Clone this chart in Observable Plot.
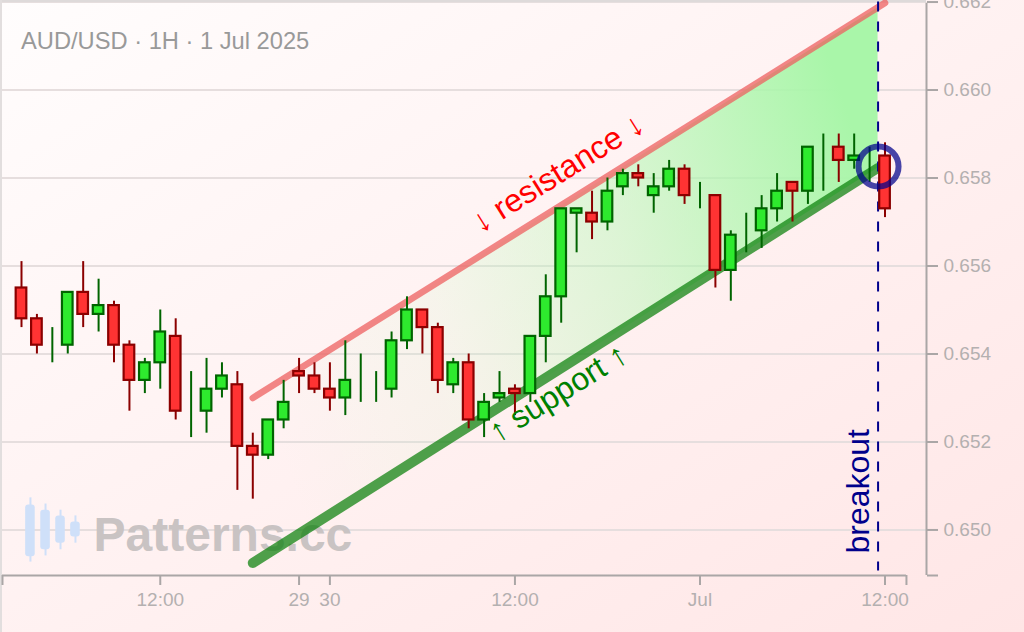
<!DOCTYPE html>
<html>
<head>
<meta charset="utf-8">
<script src="https://cdn.jsdelivr.net/npm/d3@7"></script>
<script src="https://cdn.jsdelivr.net/npm/@observablehq/plot@0.6"></script>
<style>
html,body{margin:0;padding:0;width:1024px;height:632px;overflow:hidden}
body{background:linear-gradient(to bottom right,#fffdfd,#ffe6e6);box-shadow:inset 2px 0 #e2dede}
svg{display:block;background:transparent!important}
</style>
</head>
<body>
<script>
const opens=[.6555,.6548,null,.6542,.6554,.6549,.6551,.6542,.6534,.6538,.6544,null,.6527,.6532,.6533,.6519,.6517,.6525,.6536,.6535,.6532,.6530,null,null,.6532,.6543,.6550,.6546,.6533,.6538,.6525,.6530,.6532,.6531,.6544,.6553,.6572,.6572,.6570,.6578,.6581,.6576,.6578,.6582,null,.6576,.6559,null,.6568,.6573,.6579,.6577,null,.6587,.6584,null,.6585];
const closes=[.6548,.6542,null,.6554,.6549,.6551,.6542,.6534,.6538,.6545,.6527,null,.6532,.6535,.6519,.6517,.6525,.6529,.6535,.6532,.6530,.6534,null,null,.6543,.6550,.6546,.6534,.6538,.6525,.6529,.6531,.6531,.6544,.6553,.6573,.6573,.6570,.6577,.6581,.6580,.6578,.6582,.6576,null,.6559,.6567,null,.6573,.6577,.6577,.6587,null,.6584,.6585,null,.6573];
const highs=[.6561,.6549,.6546,.6554,.6561,.6557,.6552,.6543,.6539,.6550,.6548,.6536,.6539,.6538,.6536,.6522,.6525,.6534,.6539,.6538,.6538,.6543,.6540,.6536,.6545,.6553,.6550,.6547,.6539,.6540,.6531,.6536,.6533,.6544,.6558,.6573,.6573,.6577,.6580,.6582,.6583,.6581,.6584,.6583,.6579,.6576,.6568,.6572,.6576,.6581,.6579,.6587,.6590,.6590,.6590,.6587,.6588];
const lows=[.6546,.6540,.6538,.6540,.6546,.6545,.6538,.6527,.6531,.6532,.6525,.6521,.6522,.6530,.6509,.6507,.6516,.6523,.6531,.6531,.6527,.6526,.6529,.6529,.6530,.6541,.6540,.6531,.6531,.6523,.6521,.6529,.6526,.6529,.6538,.6547,.6563,.6566,.6568,.6576,.6578,.6572,.6577,.6574,.6573,.6555,.6552,.6563,.6564,.6570,.6570,.6574,.6577,.6579,.6582,.6579,.6571];

const yTicks=[.650,.652,.654,.656,.658,.660,.662];
const xDomain=[-1.232,58.69];
const yDomain=[.648965,.662035];
const xAxisEnd=57.39;
const xTickPositions=[-1.232,9,18,20,32,44,56,57.39];
const xTickLabels=["","12:00","29","30","12:00","Jul","12:00",""];

const channelX=[15,55.55];
const resistanceX=[15,56];
const resistanceY=[.6530,.66198];
const supportX=[15,55.55];
const supportY=[.64925,.65823];
const channelTop=[.6530,.66187];
const channelBottom=[.64925,.65823];

const breakoutX=55.55;
const breakoutCircle={x:55.58,y:.65826};

const logoX=[.58,1.56,2.53,3.5];
const logoHigh=[.65073,.65059,.65045,.65032];
const logoLow=[.64927,.64941,.64955,.6497];
const logoTop=[.65057,.65045,.65032,.65018];
const logoBottom=[.64939,.64955,.6497,.64984];

const titleText="AUD/USD · 1H · 1 Jul 2025";
const watermark="Patterns.cc";

const candles=highs.map((h,i)=>({i,open:opens[i],close:closes[i],high:h,low:lows[i],down:opens[i]!=null&&closes[i]<opens[i]}));
const bodies=candles.filter(d=>d.open!=null);
const channel=channelX.map((x,k)=>({x,top:channelTop[k],bottom:channelBottom[k]}));
const logo=logoX.map((x,k)=>({x,high:logoHigh[k],low:logoLow[k],top:logoTop[k],bottom:logoBottom[k]}));
const hw=.345, logoW=.31;
const font="Liberation Sans";
const axisColor="#aaa6a6", labelColor="#b4b0b0";
const GUP="#006400",GDN="#8b0000",FUP="#2eea2e",FDN="#ff3333";

const defs=()=>{
  const d=d3.create("svg:defs");
  const g=d.append("linearGradient").attr("id","chan").attr("x1",0).attr("y1",.65).attr("x2",1).attr("y2",.35);
  [[0,0,"#b8ffb8"],[.3,.12,"#b8ffb8"],[.6,.42,"#aef8ae"],[1,1,"#a9f6a9"]].forEach(([o,a,c])=>g.append("stop").attr("offset",o).attr("stop-color",c).attr("stop-opacity",a));
  return d.node();
};

const chart=Plot.plot({
  width:1024,height:632,
  marginLeft:2,marginRight:98,marginTop:0,marginBottom:57,
  style:{fontFamily:font,background:"transparent",overflow:"visible"},
  x:{domain:xDomain,axis:null},
  y:{domain:yDomain,axis:null},
  marks:[
    defs,
    Plot.ruleY(yTicks,{stroke:"#e6dede",strokeWidth:2}),
    Plot.ruleY([yDomain[1]],{stroke:"#dedada",strokeWidth:3}),
    Plot.text([watermark],{frameAnchor:"bottom-left",dx:91,dy:-25,text:d=>d,fontSize:48,fontWeight:"bold",fill:"#c9c3c3",textAnchor:"start",lineAnchor:"bottom"}),
    Plot.ruleX(logo,{x:"x",y1:"low",y2:"high",stroke:"#cfe0f9",strokeWidth:2}),
    Plot.rect(logo,{x1:d=>d.x-logoW,x2:d=>d.x+logoW,y1:"bottom",y2:"top",fill:"#cfe0f9",rx:3}),
    Plot.areaY(channel,{x:"x",y1:"bottom",y2:"top",fill:"url(#chan)"}),
    Plot.line(resistanceX.map((x,k)=>({x,y:resistanceY[k]})),{x:"x",y:"y",stroke:"#ee6060",strokeOpacity:.75,strokeWidth:6.6,strokeLinecap:"round"}),
    Plot.line(supportX.map((x,k)=>({x,y:supportY[k]})),{x:"x",y:"y",stroke:"#0a800a",strokeOpacity:.72,strokeWidth:10,strokeLinecap:"round"}),
    Plot.ruleX([breakoutX],{y1:.662,y2:.64907,stroke:"#00008b",strokeWidth:2,strokeDasharray:"10,10"}),
    Plot.ruleX(candles,{filter:d=>!d.down,x:"i",y1:"low",y2:"high",stroke:GUP,strokeWidth:2}),
    Plot.ruleX(candles,{filter:d=>d.down,x:"i",y1:"low",y2:"high",stroke:GDN,strokeWidth:2}),
    Plot.rect(bodies,{filter:d=>!d.down,x1:d=>d.i-hw,x2:d=>d.i+hw,y1:"open",y2:"close",fill:FUP,stroke:GUP,strokeWidth:2.2}),
    Plot.rect(bodies,{filter:d=>d.down,x1:d=>d.i-hw,x2:d=>d.i+hw,y1:"open",y2:"close",fill:FDN,stroke:GDN,strokeWidth:2.2}),
    Plot.dot([breakoutCircle],{x:"x",y:"y",r:20,fill:"none",stroke:"#00008b",strokeOpacity:.72,strokeWidth:6}),
    Plot.text(["↓ resistance ↓"],{x:[34.8],y:[.65811],text:d=>d,rotate:-32,fontSize:32,fill:"red"}),
    Plot.text(["↑ support ↑"],{x:[34.8],y:[.65311],text:d=>d,rotate:-32,fontSize:32,fill:"green"}),
    Plot.text(["breakout"],{x:[54.29],y:[.65088],text:d=>d,rotate:-90,fontSize:32,fill:"#00008b"}),
    Plot.text([titleText],{frameAnchor:"top-left",dx:18.5,dy:41,text:d=>d,fontSize:23.7,fill:"#999",textAnchor:"start",lineAnchor:"middle"}),
    Plot.ruleY([yDomain[0]],{x1:xDomain[0],x2:xAxisEnd,stroke:axisColor,strokeWidth:2}),
    Plot.ruleX([xDomain[1]],{y1:yDomain[0],y2:.66197,stroke:axisColor,strokeWidth:2}),
    Plot.axisX(xTickPositions,{anchor:"bottom",tickSize:10,tickPadding:7,strokeWidth:2,stroke:axisColor,fill:labelColor,fontSize:19,
      tickFormat:d=>xTickLabels[xTickPositions.indexOf(d)],label:null}),
    Plot.axisY([yDomain[0],...yTicks],{anchor:"right",tickSize:11,tickPadding:6,strokeWidth:2,stroke:axisColor,fill:labelColor,fontSize:19,
      tickFormat:d=>d<.65?"":d.toFixed(3),label:null})
  ]
});
document.body.appendChild(chart);
</script>
</body>
</html>
